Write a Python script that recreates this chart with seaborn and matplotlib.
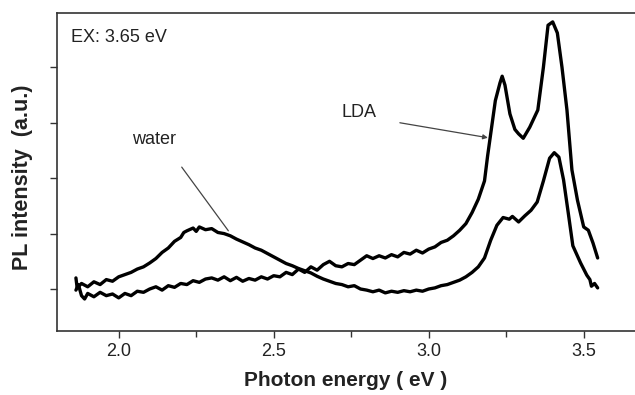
import pandas as pd
import seaborn as sns
import matplotlib.pyplot as plt

# water sample: broad hump near 2.3 eV, smaller band-edge peak near 3.4 eV
water_energy = [1.862, 1.866, 1.88, 1.90, 1.92, 1.94, 1.96, 1.98, 2.00, 2.02,
                2.04, 2.06, 2.08, 2.10, 2.12, 2.14, 2.16, 2.18, 2.20, 2.21,
                2.22, 2.24, 2.25, 2.26, 2.28, 2.30, 2.32, 2.34, 2.36, 2.38,
                2.40, 2.42, 2.44, 2.46, 2.48, 2.50, 2.52, 2.54, 2.56, 2.58,
                2.60, 2.62, 2.64, 2.66, 2.68, 2.70, 2.72, 2.74, 2.76, 2.78,
                2.80, 2.82, 2.84, 2.86, 2.88, 2.90, 2.92, 2.94, 2.96, 2.98,
                3.00, 3.02, 3.04, 3.06, 3.08, 3.10, 3.12, 3.14, 3.16, 3.18,
                3.20, 3.22, 3.24, 3.26, 3.27, 3.29, 3.31, 3.33, 3.35, 3.37,
                3.39, 3.405, 3.42, 3.435, 3.45, 3.465, 3.49, 3.51, 3.52, 3.525,
                3.535, 3.545]
water_pl = [0.20, 0.02, 0.10, 0.04, 0.13, 0.08, 0.17, 0.14, 0.22, 0.26,
            0.30, 0.36, 0.40, 0.47, 0.55, 0.66, 0.74, 0.86, 0.93, 1.02,
            1.05, 1.10, 1.04, 1.12, 1.07, 1.09, 1.02, 1.00, 0.96, 0.90,
            0.85, 0.80, 0.74, 0.70, 0.64, 0.58, 0.52, 0.46, 0.42, 0.37,
            0.33, 0.29, 0.23, 0.18, 0.14, 0.10, 0.08, 0.04, 0.06, 0.00,
            -0.02, -0.05, -0.02, -0.07, -0.04, -0.06, -0.03, -0.05, -0.02, -0.04,
            0.00, 0.02, 0.06, 0.08, 0.12, 0.16, 0.22, 0.30, 0.40, 0.56,
            0.88, 1.15, 1.29, 1.26, 1.31, 1.21, 1.32, 1.42, 1.57, 1.95,
            2.36, 2.46, 2.38, 1.97, 1.38, 0.78, 0.47, 0.25, 0.17, 0.05,
            0.10, 0.02]

# LDA sample: double peak at ~3.24 and ~3.40 eV
lda_energy = [1.862, 1.87, 1.88, 1.89, 1.90, 1.92, 1.94, 1.96, 1.98, 2.00,
              2.02, 2.04, 2.06, 2.08, 2.10, 2.12, 2.14, 2.16, 2.18, 2.20,
              2.22, 2.24, 2.26, 2.28, 2.30, 2.32, 2.34, 2.36, 2.38, 2.40,
              2.42, 2.44, 2.46, 2.48, 2.50, 2.52, 2.54, 2.56, 2.58, 2.60,
              2.62, 2.64, 2.66, 2.68, 2.70, 2.72, 2.74, 2.76, 2.78, 2.80,
              2.82, 2.84, 2.86, 2.88, 2.90, 2.92, 2.94, 2.96, 2.98, 3.00,
              3.02, 3.04, 3.06, 3.08, 3.10, 3.12, 3.14, 3.16, 3.18, 3.19,
              3.20, 3.215, 3.23, 3.237, 3.246, 3.262, 3.278, 3.29, 3.305, 3.326,
              3.352, 3.37, 3.385, 3.40, 3.415, 3.43, 3.446, 3.462, 3.48, 3.50,
              3.515, 3.53, 3.545]
lda_pl = [-0.02, 0.08, -0.12, -0.18, -0.08, -0.14, -0.06, -0.12, -0.09, -0.16,
          -0.08, -0.12, -0.04, -0.06, 0.00, 0.04, -0.02, 0.06, 0.03, 0.10,
          0.08, 0.15, 0.12, 0.18, 0.20, 0.16, 0.22, 0.15, 0.21, 0.14,
          0.19, 0.16, 0.22, 0.18, 0.24, 0.22, 0.30, 0.26, 0.36, 0.30,
          0.40, 0.34, 0.44, 0.50, 0.42, 0.40, 0.46, 0.44, 0.52, 0.60,
          0.55, 0.60, 0.56, 0.62, 0.58, 0.66, 0.63, 0.70, 0.65, 0.72,
          0.76, 0.84, 0.88, 0.96, 1.06, 1.18, 1.38, 1.62, 1.95, 2.40,
          2.80, 3.40, 3.72, 3.84, 3.68, 3.16, 2.88, 2.80, 2.72, 2.92,
          3.23, 4.00, 4.76, 4.82, 4.62, 4.00, 3.23, 2.15, 1.60, 1.12,
          1.06, 0.83, 0.56]

x_ticks = [2.0, 2.5, 3.0, 3.5]
x_minor = [2.25, 2.75, 3.25]
y_ticks = [0, 1, 2, 3, 4]

sns.set_style('ticks')
plt.rcParams['font.family'] = ['Liberation Sans', 'DejaVu Sans']

df_water = pd.DataFrame({'E': water_energy, 'PL': water_pl})
df_lda = pd.DataFrame({'E': lda_energy, 'PL': lda_pl})

fig = plt.figure(figsize=(6.35, 3.95), dpi=100)
ax = fig.add_axes([0.0893, 0.162, 0.9107, 0.805])

sns.lineplot(x='E', y='PL', data=df_water, ax=ax, color='black',
             linewidth=2.4, sort=False, estimator=None)
sns.lineplot(x='E', y='PL', data=df_lda, ax=ax, color='black',
             linewidth=2.4, sort=False, estimator=None)

ax.set_xlim(1.8, 3.6655)
ax.set_ylim(-0.758, 4.98)
ax.set_xticks(x_ticks)
ax.set_xticks(x_minor, minor=True)
ax.set_xticklabels([f'{t:.1f}' for t in x_ticks])
ax.set_yticks(y_ticks)
ax.set_yticklabels([])

for s in ['left', 'bottom', 'top']:
    ax.spines[s].set_color('#333333')
    ax.spines[s].set_linewidth(1.2)
ax.spines['right'].set_visible(False)
ax.tick_params(axis='both', which='major', length=5, width=1.0,
               color='#333333', labelsize=13, labelcolor='#222222')
ax.tick_params(axis='x', which='minor', length=4, width=1.0, color='#333333')

ax.set_xlabel('Photon energy ( eV )', fontsize=15, fontweight='bold',
              color='#222222', labelpad=8)
ax.set_ylabel('PL intensity  (a.u.)', fontsize=15.5, fontweight='bold',
              color='#222222')
ax.yaxis.set_label_coords(-0.041, 0.484)

ax.text(0.025, 0.909, 'EX: 3.65 eV', transform=ax.transAxes, fontsize=13,
        color='#222222', va='baseline', ha='left')
ax.text(2.114, 2.69, 'water', fontsize=13, color='#222222',
        ha='center', va='center')
ax.text(2.775, 3.18, 'LDA', fontsize=13, color='#222222',
        ha='center', va='center')

ax.annotate('', xy=(2.359, 1.01), xytext=(2.198, 2.24),
            arrowprops=dict(arrowstyle='-', color='#444444', lw=0.9))
ax.annotate('', xy=(3.191, 2.73), xytext=(2.907, 3.0),
            arrowprops=dict(arrowstyle='-|>', color='#444444', lw=0.9,
                            mutation_scale=7, shrinkA=0, shrinkB=0))

fig.savefig('out.png', dpi=100)
